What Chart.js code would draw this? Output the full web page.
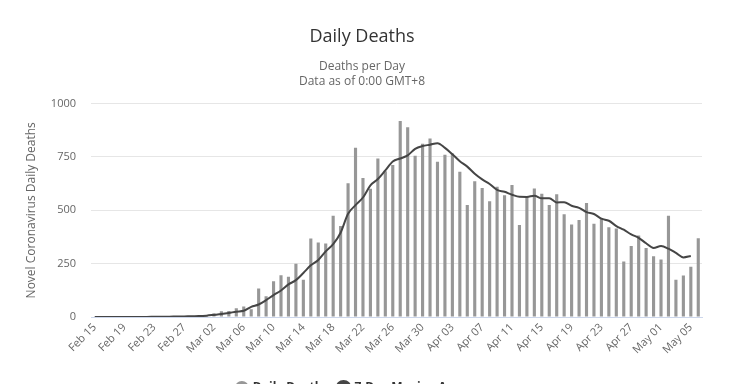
<!DOCTYPE html>
<html><head><meta charset="utf-8">
<script src="https://cdn.jsdelivr.net/npm/chart.js@4/dist/chart.umd.min.js"></script>
<style>html,body{margin:0;padding:0;background:#fff;overflow:hidden}#wrap{position:relative;width:732px;height:404px}</style>
</head><body><div id="wrap"><canvas id="c"></canvas></div>
<script>
const categories = [
  "Feb 15","Feb 16","Feb 17","Feb 18","Feb 19","Feb 20","Feb 21","Feb 22","Feb 23","Feb 24","Feb 25","Feb 26","Feb 27","Feb 28","Feb 29",
  "Mar 01","Mar 02","Mar 03","Mar 04","Mar 05","Mar 06","Mar 07","Mar 08","Mar 09","Mar 10","Mar 11","Mar 12","Mar 13","Mar 14","Mar 15","Mar 16",
  "Mar 17","Mar 18","Mar 19","Mar 20","Mar 21","Mar 22","Mar 23","Mar 24","Mar 25","Mar 26","Mar 27","Mar 28","Mar 29","Mar 30","Mar 31",
  "Apr 01","Apr 02","Apr 03","Apr 04","Apr 05","Apr 06","Apr 07","Apr 08","Apr 09","Apr 10","Apr 11","Apr 12","Apr 13","Apr 14","Apr 15",
  "Apr 16","Apr 17","Apr 18","Apr 19","Apr 20","Apr 21","Apr 22","Apr 23","Apr 24","Apr 25","Apr 26","Apr 27","Apr 28","Apr 29","Apr 30",
  "May 01","May 02","May 03","May 04","May 05","May 06"
];
const dailyDeaths = [
  0,0,0,0,0,0,1,1,1,4,3,2,5,4,8,
  5,18,27,28,41,49,36,133,97,168,196,189,250,175,368,349,
  345,475,427,627,793,651,601,743,683,712,919,889,756,812,837,
  727,760,766,681,525,636,604,542,610,570,619,431,566,602,578,
  525,575,482,433,454,534,437,464,420,415,260,333,382,323,285,
  269,474,174,195,236,369
];
const movingAverage = [
  0,0,0,0,0,0.1,0.3,0.4,1.0,1.4,1.7,2.4,2.9,3.9,4.4,
  6.4,9.9,13.6,18.7,25.1,29.1,47.4,58.7,78.9,102.9,124.0,152.7,172.6,206.1,242.1,267.4,
  307.3,341.3,395.1,483.4,523.9,559.9,616.7,646.4,687.1,728.9,742.6,757.6,787.7,801.1,807.4,
  814.3,792.4,762.7,729.7,704.6,671.3,644.9,623.4,595.4,586.6,573.1,563.1,562.9,568.0,555.9,
  556.6,537.0,537.3,521.3,511.6,491.4,482.7,460.6,451.0,426.3,409.0,387.3,371.0,345.4,323.9,
  332.3,320.0,300.3,279.4,286.0,null
];
const yTicks = [0, 250, 500, 750, 1000];
const xLabelEvery = 4;

const FONT = "'Open Sans', 'DejaVu Sans', sans-serif";

new Chart(document.getElementById('c'), {
  type: 'bar',
  data: {
    labels: categories,
    datasets: [
      {
        type: 'bar', label: 'Daily Deaths', data: dailyDeaths,
        backgroundColor: '#979797', borderWidth: 0,
        categoryPercentage: 1, barPercentage: 0.42, order: 1,
        pointStyle: 'circle'
      },
      {
        type: 'line', label: '7-Day Moving Average', data: movingAverage,
        borderColor: '#454545', backgroundColor: '#454545', borderWidth: 2,
        pointRadius: 0, cubicInterpolationMode: 'monotone', order: 0,
        pointStyle: 'circle', spanGaps: false
      }
    ]
  },
  options: {
    responsive: true, maintainAspectRatio: false, animation: false,
    layout: { padding: { left: 0, right: 8, top: 0, bottom: 0 } },
    plugins: {
      tooltip: { enabled: false },
      title: {
        display: true, text: 'Daily Deaths', color: '#333333',
        font: { family: FONT, size: 18, weight: 'normal', lineHeight: 1.2 },
        padding: { top: 26, bottom: 11 }
      },
      subtitle: {
        display: true, text: ['Deaths per Day', 'Data as of 0:00 GMT+8'], color: '#666666',
        font: { family: FONT, size: 12, weight: 'normal', lineHeight: 1.25 },
        padding: { top: 0, bottom: 15 }
      },
      legend: {
        display: true, position: 'bottom',
        labels: {
          usePointStyle: true, boxWidth: 10, boxHeight: 10, padding: 10, color: '#333333',
          font: { family: FONT, size: 12, weight: 'bold' },
          sort: (a, b) => a.datasetIndex - b.datasetIndex
        }
      }
    },
    scales: {
      x: {
        grid: { display: false, drawTicks: false },
        border: { display: true, color: '#ccd6eb', width: 1 },
        ticks: {
          autoSkip: false, maxRotation: 45, minRotation: 45, padding: 4, color: '#666666',
          font: { family: FONT, size: 11 },
          callback: function (v, i) { return i % xLabelEvery === 0 ? categories[i] : ''; }
        },
        afterFit: s => { s.height = 55; }
      },
      y: {
        min: 0, max: 1000,
        afterBuildTicks: s => { s.ticks = yTicks.map(v => ({ value: v })); },
        grid: { color: '#e6e6e6', drawTicks: false },
        border: { display: false },
        ticks: { padding: 15, color: '#666666', font: { family: FONT, size: 11 }, callback: v => String(v) },
        title: {
          display: true, text: 'Novel Coronavirus Daily Deaths', color: '#666666',
          font: { family: FONT, size: 12 }, padding: { top: 24, bottom: 0 }
        },
        afterFit: s => { s.width = 91; }
      },
      yr: {
        position: 'right', display: true,
        grid: { display: false, drawTicks: false }, border: { display: false },
        ticks: { display: false },
        afterFit: s => { s.width = 22; }
      }
    }
  }
});
</script>
</body></html>
